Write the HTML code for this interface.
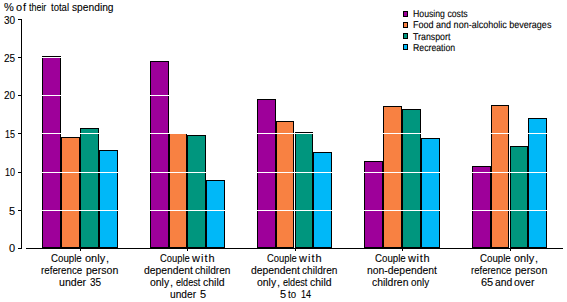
<!DOCTYPE html>
<html><head><meta charset="utf-8"><style>
html,body{margin:0;padding:0;background:#fff;}
body{width:567px;height:302px;position:relative;overflow:hidden;}
svg{position:absolute;left:0;top:0;}
.t{position:absolute;font-family:"Liberation Sans",sans-serif;color:#000;white-space:pre;line-height:12px;transform-origin:0 0;-webkit-text-stroke:0.1px #000;}
</style></head><body>
<svg width="567" height="302" viewBox="0 0 567 302" shape-rendering="crispEdges">
<rect x="42" y="56" width="19" height="192" fill="#000"/>
<rect x="43" y="57" width="17" height="190" fill="#9E009A"/>
<rect x="61" y="137" width="19" height="111" fill="#000"/>
<rect x="62" y="138" width="17" height="109" fill="#F88142"/>
<rect x="80" y="128" width="19" height="120" fill="#000"/>
<rect x="81" y="129" width="17" height="118" fill="#00967E"/>
<rect x="99" y="150" width="19" height="98" fill="#000"/>
<rect x="100" y="151" width="17" height="96" fill="#00B8F8"/>
<rect x="150" y="61" width="19" height="187" fill="#000"/>
<rect x="151" y="62" width="17" height="185" fill="#9E009A"/>
<rect x="169" y="133" width="18" height="115" fill="#000"/>
<rect x="170" y="134" width="16" height="113" fill="#F88142"/>
<rect x="187" y="135" width="19" height="113" fill="#000"/>
<rect x="188" y="136" width="17" height="111" fill="#00967E"/>
<rect x="206" y="180" width="19" height="68" fill="#000"/>
<rect x="207" y="181" width="17" height="66" fill="#00B8F8"/>
<rect x="257" y="99" width="19" height="149" fill="#000"/>
<rect x="258" y="100" width="17" height="147" fill="#9E009A"/>
<rect x="276" y="121" width="18" height="127" fill="#000"/>
<rect x="277" y="122" width="16" height="125" fill="#F88142"/>
<rect x="295" y="132" width="18" height="116" fill="#000"/>
<rect x="296" y="133" width="16" height="114" fill="#00967E"/>
<rect x="313" y="152" width="19" height="96" fill="#000"/>
<rect x="314" y="153" width="17" height="94" fill="#00B8F8"/>
<rect x="364" y="161" width="19" height="87" fill="#000"/>
<rect x="365" y="162" width="17" height="85" fill="#9E009A"/>
<rect x="383" y="106" width="19" height="142" fill="#000"/>
<rect x="384" y="107" width="17" height="140" fill="#F88142"/>
<rect x="402" y="109" width="19" height="139" fill="#000"/>
<rect x="403" y="110" width="17" height="137" fill="#00967E"/>
<rect x="421" y="138" width="19" height="110" fill="#000"/>
<rect x="422" y="139" width="17" height="108" fill="#00B8F8"/>
<rect x="472" y="166" width="19" height="82" fill="#000"/>
<rect x="473" y="167" width="17" height="80" fill="#9E009A"/>
<rect x="491" y="105" width="18" height="143" fill="#000"/>
<rect x="492" y="106" width="16" height="141" fill="#F88142"/>
<rect x="510" y="146" width="18" height="102" fill="#000"/>
<rect x="511" y="147" width="16" height="100" fill="#00967E"/>
<rect x="528" y="118" width="19" height="130" fill="#000"/>
<rect x="529" y="119" width="17" height="128" fill="#00B8F8"/>
<rect x="22" y="57" width="541" height="1" fill="#fff"/>
<rect x="22" y="95" width="541" height="1" fill="#fff"/>
<rect x="22" y="133" width="541" height="1" fill="#fff"/>
<rect x="22" y="172" width="541" height="1" fill="#fff"/>
<rect x="22" y="210" width="541" height="1" fill="#fff"/>
<rect x="21" y="19" width="1" height="230" fill="#000"/>
<rect x="18" y="19" width="3" height="1" fill="#000"/>
<rect x="18" y="57" width="3" height="1" fill="#000"/>
<rect x="18" y="95" width="3" height="1" fill="#000"/>
<rect x="18" y="133" width="3" height="1" fill="#000"/>
<rect x="18" y="172" width="3" height="1" fill="#000"/>
<rect x="18" y="210" width="3" height="1" fill="#000"/>
<rect x="18" y="248" width="3" height="1" fill="#000"/>
<rect x="26" y="248" width="537" height="1" fill="#000"/>
<rect x="80" y="249" width="1" height="2" fill="#000"/>
<rect x="187" y="249" width="1" height="2" fill="#000"/>
<rect x="295" y="249" width="1" height="2" fill="#000"/>
<rect x="402" y="249" width="1" height="2" fill="#000"/>
<rect x="510" y="249" width="1" height="2" fill="#000"/>
<rect x="403" y="11" width="5" height="6" fill="#000"/>
<rect x="404" y="12" width="3" height="4" fill="#9E009A"/>
<rect x="403" y="22" width="5" height="6" fill="#000"/>
<rect x="404" y="23" width="3" height="4" fill="#F88142"/>
<rect x="403" y="33" width="5" height="6" fill="#000"/>
<rect x="404" y="34" width="3" height="4" fill="#00967E"/>
<rect x="403" y="44" width="5" height="6" fill="#000"/>
<rect x="404" y="45" width="3" height="4" fill="#00B8F8"/>
</svg>
<div class="t" style="left:4.00px;top:1px;font-size:11px;transform:scaleX(1.0000);">%</div>
<div class="t" style="left:16.00px;top:1px;font-size:11px;letter-spacing:1.000px;transform:scaleX(1.0000);">of</div>
<div class="t" style="left:29.00px;top:1px;font-size:11px;transform:scaleX(0.8095);">their</div>
<div class="t" style="left:51.25px;top:1px;font-size:11px;transform:scaleX(0.8679);">total</div>
<div class="t" style="left:72.00px;top:1px;font-size:11px;transform:scaleX(0.9302);">spending</div>
<div class="t" style="left:4.00px;top:14px;font-size:11px;transform:scaleX(0.9091);">30</div>
<div class="t" style="left:4.00px;top:52px;font-size:11px;transform:scaleX(0.9091);">25</div>
<div class="t" style="left:4.00px;top:89px;font-size:11px;transform:scaleX(0.9091);">20</div>
<div class="t" style="left:5.00px;top:128px;font-size:11px;transform:scaleX(0.8182);">15</div>
<div class="t" style="left:5.00px;top:166px;font-size:11px;transform:scaleX(0.8182);">10</div>
<div class="t" style="left:9.00px;top:205px;font-size:11px;transform:scaleX(1.0000);">5</div>
<div class="t" style="left:9.00px;top:242px;font-size:11px;transform:scaleX(1.0000);">0</div>
<div class="t" style="left:413.00px;top:9px;font-size:10px;transform:scaleX(0.8710);text-rendering:geometricPrecision;">Housing costs</div>
<div class="t" style="left:413.00px;top:20px;font-size:10px;transform:scaleX(0.9020);text-rendering:geometricPrecision;">Food and non-alcoholic beverages</div>
<div class="t" style="left:413.00px;top:32px;font-size:10px;transform:scaleX(0.8810);text-rendering:geometricPrecision;">Transport</div>
<div class="t" style="left:413.00px;top:43px;font-size:10px;transform:scaleX(0.8723);text-rendering:geometricPrecision;">Recreation</div>
<div class="t" style="left:51.00px;top:252px;font-size:11px;transform:scaleX(0.8824);">Couple</div>
<div class="t" style="left:85.00px;top:252px;font-size:11px;transform:scaleX(1.0000);">only</div>
<div class="t" style="left:106.00px;top:252px;font-size:11px;transform:scaleX(1.0000);">,</div>
<div class="t" style="left:41.00px;top:264px;font-size:11px;transform:scaleX(0.8889);">reference</div>
<div class="t" style="left:86.25px;top:264px;font-size:11px;transform:scaleX(0.9595);">person</div>
<div class="t" style="left:59.00px;top:276px;font-size:11px;transform:scaleX(0.9630);">under</div>
<div class="t" style="left:90.00px;top:276px;font-size:11px;transform:scaleX(0.9091);">35</div>
<div class="t" style="left:160.00px;top:252px;font-size:11px;transform:scaleX(0.8529);">Couple</div>
<div class="t" style="left:192.00px;top:252px;font-size:11px;letter-spacing:1.000px;transform:scaleX(1.0000);">with</div>
<div class="t" style="left:144.00px;top:264px;font-size:11px;transform:scaleX(0.9412);">dependent</div>
<div class="t" style="left:195.00px;top:264px;font-size:11px;transform:scaleX(0.9189);">children</div>
<div class="t" style="left:150.00px;top:276px;font-size:11px;transform:scaleX(0.9500);">only</div>
<div class="t" style="left:170.00px;top:276px;font-size:11px;transform:scaleX(1.0000);">,</div>
<div class="t" style="left:176.00px;top:276px;font-size:11px;transform:scaleX(0.8276);">eldest</div>
<div class="t" style="left:203.00px;top:276px;font-size:11px;transform:scaleX(0.9524);">child</div>
<div class="t" style="left:170.00px;top:288px;font-size:11px;transform:scaleX(0.9259);">under</div>
<div class="t" style="left:200.00px;top:288px;font-size:11px;transform:scaleX(1.0000);">5</div>
<div class="t" style="left:267.00px;top:252px;font-size:11px;transform:scaleX(0.8529);">Couple</div>
<div class="t" style="left:299.00px;top:252px;font-size:11px;letter-spacing:1.000px;transform:scaleX(1.0000);">with</div>
<div class="t" style="left:251.00px;top:264px;font-size:11px;transform:scaleX(0.9412);">dependent</div>
<div class="t" style="left:302.00px;top:264px;font-size:11px;transform:scaleX(0.9189);">children</div>
<div class="t" style="left:257.00px;top:276px;font-size:11px;transform:scaleX(0.9500);">only</div>
<div class="t" style="left:277.00px;top:276px;font-size:11px;transform:scaleX(1.0000);">,</div>
<div class="t" style="left:283.00px;top:276px;font-size:11px;transform:scaleX(0.8276);">eldest</div>
<div class="t" style="left:310.00px;top:276px;font-size:11px;transform:scaleX(0.9524);">child</div>
<div class="t" style="left:280.00px;top:288px;font-size:11px;transform:scaleX(1.0000);">5</div>
<div class="t" style="left:288.00px;top:288px;font-size:11px;transform:scaleX(0.8750);">to</div>
<div class="t" style="left:301.00px;top:288px;font-size:11px;transform:scaleX(0.8182);">14</div>
<div class="t" style="left:375.00px;top:252px;font-size:11px;transform:scaleX(0.8824);">Couple</div>
<div class="t" style="left:408.00px;top:252px;font-size:11px;letter-spacing:0.667px;transform:scaleX(1.0000);">with</div>
<div class="t" style="left:367.00px;top:264px;font-size:11px;transform:scaleX(0.9452);">non-dependent</div>
<div class="t" style="left:372.00px;top:276px;font-size:11px;transform:scaleX(0.9459);">children</div>
<div class="t" style="left:411.00px;top:276px;font-size:11px;transform:scaleX(0.9000);">only</div>
<div class="t" style="left:480.00px;top:252px;font-size:11px;transform:scaleX(0.8824);">Couple</div>
<div class="t" style="left:514.00px;top:252px;font-size:11px;transform:scaleX(1.0000);">only</div>
<div class="t" style="left:535.00px;top:252px;font-size:11px;transform:scaleX(1.0000);">,</div>
<div class="t" style="left:471.00px;top:264px;font-size:11px;transform:scaleX(0.8667);">reference</div>
<div class="t" style="left:515.25px;top:264px;font-size:11px;transform:scaleX(0.9595);">person</div>
<div class="t" style="left:481.00px;top:276px;font-size:11px;transform:scaleX(1.0000);">65</div>
<div class="t" style="left:495.00px;top:276px;font-size:11px;transform:scaleX(0.9412);">and</div>
<div class="t" style="left:514.00px;top:276px;font-size:11px;transform:scaleX(0.9524);">over</div>
</body></html>
